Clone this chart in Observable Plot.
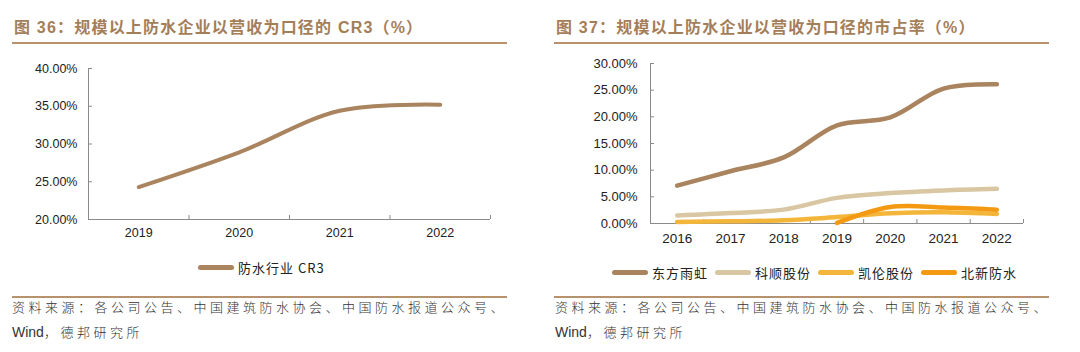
<!DOCTYPE html>
<html>
<head>
<meta charset="utf-8">
<script src="https://cdn.jsdelivr.net/npm/d3@7"></script>
<script src="https://cdn.jsdelivr.net/npm/@observablehq/plot@0.6"></script>
<style>
  html, body { margin: 0; padding: 0; background: #fff; }
  #root { position: relative; width: 1080px; height: 352px; overflow: hidden; background: #fff; }
  .title { position: absolute; top: 14px; font-family: "Liberation Sans", "Noto Sans CJK SC", sans-serif; font-weight: bold; font-size: 16px; letter-spacing: 1.2px; color: #A47E59; white-space: nowrap; }
  .rule { position: absolute; height: 2px; background: #B8926D; }
  .chart { position: absolute; top: 50px; }
  .legend { position: absolute; display: flex; align-items: center; font-family: "Noto Sans CJK SC", sans-serif; font-size: 13px; color: #222; white-space: nowrap; height: 20px; }
  .legend .sw { display: inline-block; width: 36px; height: 5px; border-radius: 3px; margin-right: 4px; }
  .legend .item { display: flex; align-items: center; margin-right: 7px; letter-spacing: 1px; }
  .src { position: absolute; font-family: "Noto Sans CJK SC", sans-serif; font-size: 13px; color: #333; letter-spacing: 3.5px; white-space: nowrap; line-height: 25px; font-weight: 300; }
  .src .w { font-family: "Liberation Sans", sans-serif; letter-spacing: 0; font-size: 14px; }
</style>
</head>
<body>
<div id="root">
  <div class="title" style="left:14px">图 36：规模以上防水企业以营收为口径的 CR3（%）</div>
  <div class="title" style="left:556px">图 37：规模以上防水企业以营收为口径的市占率（%）</div>
  <div class="rule" style="left:12px; width:495px; top:42px"></div>
  <div class="rule" style="left:554px; width:495px; top:42px"></div>
  <div class="chart" id="c1" style="left:0px"></div>
  <div class="chart" id="c2" style="left:540px"></div>
  <div class="legend" id="lg1" style="left:198px; top:257px"></div>
  <div class="legend" id="lg2" style="left:612px; top:262px"></div>
  <div class="rule" style="left:12px; width:495px; top:296px"></div>
  <div class="rule" style="left:554px; width:495px; top:296px"></div>
  <div class="src" style="left:12px; top:294px">资料来源：各公司公告、中国建筑防水协会、中国防水报道公众号、<br><span class="w">Wind</span>，德邦研究所</div>
  <div class="src" style="left:555px; top:294px">资料来源：各公司公告、中国建筑防水协会、中国防水报道公众号、<br><span class="w">Wind</span>，德邦研究所</div>
</div>
<script>
// ---- Data: chart 36 ----
const cr3Years = [2019, 2020, 2021, 2022];
const cr3Values = [24.3, 28.9, 34.4, 35.2];
const cr3Ticks = [20, 25, 30, 35, 40];
const cr3Name = "防水行业 CR3";

// ---- Data: chart 37 ----
const shareYears = [2016, 2017, 2018, 2019, 2020, 2021, 2022];
const dongfang = [7.1, 9.8, 12.4, 18.4, 19.9, 25.3, 26.1];
const keshun = [1.5, 1.95, 2.6, 4.8, 5.7, 6.2, 6.5];
const kailun = [0.3, 0.4, 0.6, 1.2, 1.9, 2.1, 1.8];
const beixinYears = [2019, 2020, 2021, 2022];
const beixin = [0.1, 3.1, 3.0, 2.6];
const seriesNames = ["东方雨虹", "科顺股份", "凯伦股份", "北新防水"];
const seriesColors = ["#A9845E", "#D9C6A2", "#F4B63A", "#F39A12"];
const shareTicks = [0, 5, 10, 15, 20, 25, 30];

const pct = d => d.toFixed(2) + "%";
const axisColor = "#8a8a8a";
const fontStyle = {fontFamily: "'Liberation Sans', Arial, sans-serif", color: "#222", background: "transparent", overflow: "visible"};

// ---- Chart 36 ----
const cr3Rows = cr3Years.map((y, i) => ({year: y, value: cr3Values[i]}));
const b1 = d3.range(cr3Years.length + 1).map(i => cr3Years[0] - 0.5 + i);
const p1 = Plot.plot({
  width: 540, height: 200,
  marginLeft: 88, marginRight: 50, marginTop: 18, marginBottom: 31,
  style: {...fontStyle, fontSize: "12px"},
  x: {type: "linear", domain: [b1[0], b1[b1.length - 1]]},
  y: {domain: [cr3Ticks[0], cr3Ticks[cr3Ticks.length - 1]]},
  marks: [
    Plot.ruleY([cr3Ticks[0]], {stroke: axisColor}),
    Plot.ruleX([b1[0]], {stroke: axisColor}),
    Plot.axisY({ticks: cr3Ticks, tickFormat: () => "", tickSize: -4, stroke: axisColor, label: null}),
    Plot.axisY({ticks: cr3Ticks, tickFormat: pct, tickSize: 0, tickPadding: 11, label: null, fill: "#222", fontSize: 12.5}),
    Plot.axisX({ticks: b1, tickFormat: () => "", tickSize: -4, stroke: axisColor, label: null}),
    Plot.axisX({ticks: cr3Years, tickFormat: d => String(d), tickSize: 0, tickPadding: 9, label: null, fill: "#222", fontSize: 12.5}),
    Plot.line(cr3Rows, {x: "year", y: "value", stroke: seriesColors[0], strokeWidth: 4, curve: "catmull-rom", strokeLinecap: "round"})
  ]
});
document.getElementById("c1").appendChild(p1);

// ---- Chart 37 ----
const rows2 = [];
[dongfang, keshun, kailun].forEach((arr, k) => arr.forEach((v, i) => rows2.push({name: seriesNames[k], year: shareYears[i], value: v})));
beixin.forEach((v, i) => rows2.push({name: seriesNames[3], year: beixinYears[i], value: v}));
const b2 = d3.range(shareYears.length + 1).map(i => shareYears[0] - 0.5 + i);
const p2 = Plot.plot({
  width: 540, height: 200,
  marginLeft: 110, marginRight: 57, marginTop: 13, marginBottom: 27,
  style: {...fontStyle, fontSize: "12.5px"},
  x: {type: "linear", domain: [b2[0], b2[b2.length - 1]]},
  y: {domain: [shareTicks[0], shareTicks[shareTicks.length - 1]]},
  color: {domain: seriesNames, range: seriesColors},
  marks: [
    Plot.ruleY([0], {stroke: axisColor}),
    Plot.ruleX([b2[0]], {stroke: axisColor}),
    Plot.axisY({ticks: shareTicks, tickFormat: () => "", tickSize: -4, stroke: axisColor, label: null}),
    Plot.axisY({ticks: shareTicks, tickFormat: pct, tickSize: 0, tickPadding: 13, label: null, fill: "#222", fontSize: 13}),
    Plot.axisX({ticks: b2, tickFormat: () => "", tickSize: -4, stroke: axisColor, label: null}),
    Plot.axisX({ticks: shareYears, tickFormat: d => String(d), tickSize: 0, tickPadding: 10, label: null, fill: "#222", fontSize: 13.5}),
    Plot.line(rows2, {x: "year", y: "value", z: "name", stroke: "name", strokeWidth: 4.5, curve: "catmull-rom", strokeLinecap: "round"})
  ]
});
document.getElementById("c2").appendChild(p2);

// ---- Legends ----
function legend(el, names, colors) {
  names.forEach((n, i) => {
    const it = document.createElement("div");
    it.className = "item";
    it.innerHTML = `<span class="sw" style="background:${colors[i]}"></span><span>${n}</span>`;
    el.appendChild(it);
  });
}
legend(document.getElementById("lg1"), [cr3Name], [seriesColors[0]]);
legend(document.getElementById("lg2"), seriesNames, seriesColors);
</script>
</body>
</html>
